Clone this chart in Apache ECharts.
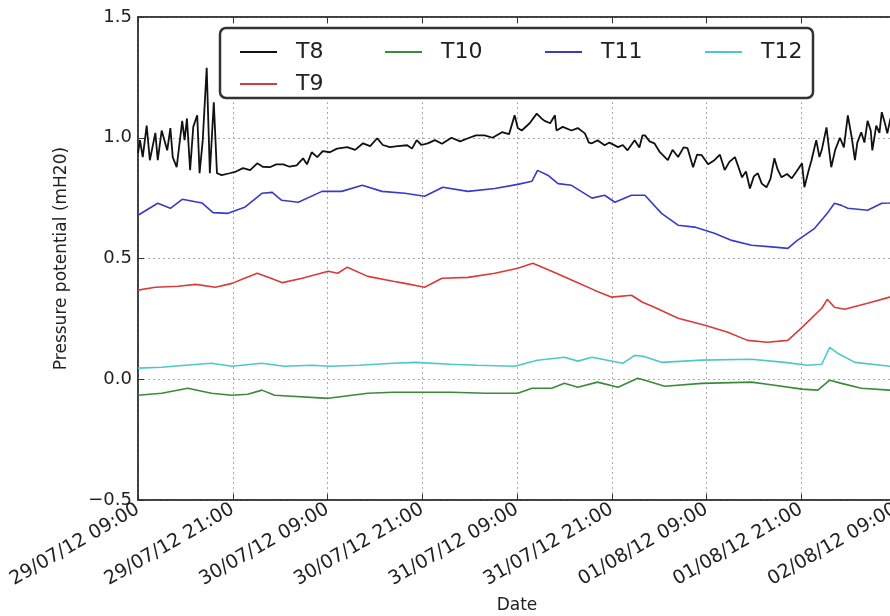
<!DOCTYPE html>
<html>
<head>
<meta charset="utf-8">
<script src="https://cdn.jsdelivr.net/npm/echarts@6/dist/echarts.min.js"></script>
<style>
  html, body { margin: 0; padding: 0; background: #fff; }
  #chart { width: 890px; height: 616px; }
</style>
</head>
<body>
<div id="chart"></div>
<script>
// hours since 29/07/12 09:00, one tick every 12 h
const xTickLabels = ['29/07/12 09:00', '29/07/12 21:00', '30/07/12 09:00', '30/07/12 21:00',
    '31/07/12 09:00', '31/07/12 21:00', '01/08/12 09:00', '01/08/12 21:00', '02/08/12 09:00'];
const seriesNames = ['T8', 'T9', 'T10', 'T11', 'T12'];

// [hour, pressure potential]
const t8 = [
    [0.0, 0.936], [0.25, 0.99], [0.6, 0.92], [1.1, 1.05], [1.5, 0.907], [2.2, 1.02], [2.5, 0.907],
    [3.0, 1.03], [3.7, 0.948], [4.1, 1.04], [4.4, 0.92], [4.9, 0.878], [5.6, 1.07], [5.9, 0.99],
    [6.2, 1.08], [6.6, 0.866], [7.0, 1.045], [7.5, 1.093], [7.8, 0.853], [8.2, 0.99], [8.7, 1.29],
    [9.1, 0.853], [9.6, 1.147], [10.0, 0.853], [10.6, 0.845], [11.6, 0.853], [12.4, 0.86],
    [13.3, 0.874], [14.2, 0.866], [15.1, 0.894], [15.8, 0.88], [16.7, 0.878], [17.5, 0.89],
    [18.4, 0.89], [19.2, 0.88], [20.1, 0.886], [20.9, 0.915], [21.4, 0.89], [22.0, 0.94],
    [22.7, 0.92], [23.4, 0.945], [24.3, 0.94], [25.2, 0.955], [26.5, 0.961], [27.5, 0.95],
    [28.5, 0.977], [29.4, 0.965], [30.3, 0.998], [31.0, 0.97], [31.9, 0.961], [32.9, 0.965],
    [34.1, 0.969], [34.7, 0.955], [35.3, 0.99], [35.9, 0.97], [36.7, 0.977], [37.6, 0.99],
    [38.5, 0.975], [39.7, 1.0], [40.8, 0.985], [41.8, 0.998], [42.8, 1.01], [43.9, 1.01],
    [44.9, 1.0], [46.1, 1.023], [47.0, 1.015], [47.7, 1.093], [48.1, 1.04], [48.6, 1.03],
    [49.6, 1.06], [50.5, 1.10], [51.1, 1.08], [51.5, 1.07], [52.2, 1.06], [52.8, 1.093],
    [53.0, 1.03], [53.8, 1.045], [54.9, 1.03], [55.7, 1.04], [56.6, 1.018], [57.1, 0.98],
    [57.5, 0.977], [58.2, 0.99], [59.1, 0.969], [59.7, 0.98], [60.8, 0.961], [61.4, 0.97],
    [62.0, 0.948], [62.9, 0.99], [63.5, 0.96], [63.9, 1.01], [64.2, 1.01], [64.8, 0.985],
    [65.4, 0.977], [66.1, 0.94], [67.1, 0.907], [67.7, 0.95], [68.4, 0.92], [69.1, 0.96],
    [69.6, 0.957], [70.3, 0.878], [70.8, 0.93], [71.4, 0.928], [72.2, 0.89], [73.0, 0.907],
    [73.7, 0.93], [74.3, 0.866], [74.9, 0.9], [75.6, 0.92], [76.5, 0.836], [77.0, 0.86],
    [77.5, 0.79], [78.0, 0.84], [78.5, 0.853], [79.0, 0.81], [79.6, 0.795], [80.1, 0.83],
    [80.6, 0.915], [81.0, 0.87], [81.5, 0.836], [82.2, 0.85], [82.8, 0.832], [83.4, 0.86],
    [84.1, 0.894], [84.4, 0.795], [84.9, 0.86], [85.3, 0.907], [85.9, 0.99], [86.3, 0.92],
    [86.6, 0.95], [87.2, 1.043], [87.6, 0.93], [87.8, 0.878], [88.3, 0.95], [88.9, 1.0],
    [89.4, 0.96], [89.9, 1.093], [90.4, 1.0], [90.8, 0.907], [91.1, 0.98], [91.6, 1.023],
    [92.0, 0.98], [92.4, 1.07], [92.8, 1.03], [93.0, 0.948], [93.5, 1.05], [93.9, 1.02],
    [94.2, 1.106], [94.6, 1.06], [94.9, 1.018], [95.3, 1.08], [95.8, 1.04], [96.2, 1.06]
];
const t9 = [
    [0.0, 0.369], [2.2, 0.381], [5.1, 0.385], [7.3, 0.393], [9.8, 0.381], [11.9, 0.397],
    [13.5, 0.418], [15.1, 0.439], [16.5, 0.422], [18.3, 0.40], [20.8, 0.418], [24.1, 0.447],
    [25.3, 0.439], [26.5, 0.464], [29.1, 0.426], [32.3, 0.406], [33.8, 0.397], [36.3, 0.381],
    [38.5, 0.418], [41.8, 0.422], [45.2, 0.439], [48.1, 0.46], [50.0, 0.48], [52.4, 0.447],
    [55.7, 0.40], [57.8, 0.369], [60.0, 0.34], [62.5, 0.348], [63.9, 0.319], [65.4, 0.298],
    [68.4, 0.253], [71.8, 0.224], [74.7, 0.195], [77.2, 0.161], [79.7, 0.153], [82.3, 0.161],
    [84.1, 0.215], [86.6, 0.294], [87.3, 0.331], [88.2, 0.298], [89.5, 0.29], [92.4, 0.315],
    [95.2, 0.34], [96.5, 0.345]
];
const t10 = [
    [0.0, -0.066], [3.0, -0.058], [6.3, -0.037], [9.3, -0.058], [11.9, -0.066], [13.9, -0.062],
    [15.7, -0.045], [17.3, -0.066], [24.1, -0.079], [29.1, -0.058], [32.3, -0.054], [39.7, -0.054],
    [44.0, -0.058], [48.1, -0.058], [49.9, -0.037], [52.4, -0.037], [54.0, -0.017], [55.7, -0.033],
    [58.2, -0.012], [60.8, -0.033], [63.3, 0.004], [64.2, -0.004], [66.7, -0.029], [71.4, -0.017],
    [77.7, -0.012], [79.7, -0.021], [84.1, -0.041], [86.1, -0.045], [87.6, -0.004], [89.1, -0.017],
    [91.6, -0.037], [95.2, -0.045], [96.5, -0.045]
];
const t11 = [
    [0.0, 0.679], [2.5, 0.729], [4.1, 0.708], [5.6, 0.745], [8.1, 0.73], [9.5, 0.69], [11.4, 0.687],
    [13.5, 0.712], [15.7, 0.77], [17.0, 0.774], [18.2, 0.741], [20.3, 0.733], [23.3, 0.778],
    [25.8, 0.778], [28.4, 0.803], [30.9, 0.778], [33.8, 0.77], [36.3, 0.758], [38.6, 0.795],
    [41.8, 0.778], [45.2, 0.79], [48.1, 0.807], [49.9, 0.82], [50.6, 0.865], [51.9, 0.845],
    [53.2, 0.81], [54.9, 0.803], [57.5, 0.75], [59.1, 0.762], [60.4, 0.733], [62.5, 0.762],
    [64.2, 0.762], [66.3, 0.687], [68.4, 0.638], [70.5, 0.63], [73.0, 0.605], [75.2, 0.575],
    [77.7, 0.555], [80.6, 0.547], [82.3, 0.542], [83.5, 0.575], [85.7, 0.625], [87.3, 0.687],
    [88.2, 0.729], [89.1, 0.72], [89.9, 0.708], [92.4, 0.70], [94.2, 0.729], [95.2, 0.73], [96.5, 0.735]
];
const t12 = [
    [0.0, 0.046], [3.0, 0.05], [6.0, 0.058], [9.3, 0.066], [11.9, 0.054], [15.7, 0.066],
    [18.5, 0.054], [22.0, 0.058], [24.3, 0.054], [28.0, 0.058], [32.3, 0.066], [35.2, 0.07],
    [39.5, 0.062], [43.0, 0.058], [47.7, 0.054], [50.6, 0.079], [54.0, 0.091], [55.7, 0.075],
    [57.5, 0.091], [61.4, 0.066], [62.9, 0.099], [64.0, 0.095], [66.3, 0.07], [71.4, 0.079],
    [77.7, 0.083], [81.9, 0.07], [84.8, 0.058], [86.6, 0.062], [87.6, 0.132], [88.6, 0.108],
    [90.8, 0.07], [95.2, 0.054], [96.5, 0.054]
];

const seriesData = [t8, t9, t10, t11, t12];
const seriesColors = ['#111111', '#d93a3a', '#3a8a3a', '#3a3ac8', '#4cc8c8'];

const font = 'DejaVu Sans';
const gridLine = { show: true, lineStyle: { color: '#aaa', type: [2, 3], width: 1 } };
const spine = { show: true, onZero: false, lineStyle: { color: '#333', width: 1.5 } };
const innerTick = { show: true, inside: true, length: 6, lineStyle: { color: '#333' } };

// legend columns like matplotlib: T8/T9 share the first column
const legendSlots = [['T8', 235, 36], ['T10', 380, 36], ['T11', 540, 36], ['T12', 700, 36], ['T9', 235, 68]];

let myChart = echarts.init(document.getElementById('chart'));

let option = {
    backgroundColor: '#fff',
    animation: false,
    textStyle: { fontFamily: font },
    grid: {
        left: 138,
        top: 17,
        width: 758,
        height: 483,
        outerBoundsMode: 'none',
        containLabel: false,
        show: true,
        borderColor: '#333',
        borderWidth: 1.5
    },
    graphic: [{
        type: 'rect',
        z: 3,
        shape: { x: 220, y: 28, width: 593, height: 70, r: 6 },
        style: { fill: '#fff', stroke: '#333', lineWidth: 2.5 }
    }],
    legend: legendSlots.map(function (s) {
        return {
            data: [s[0]],
            left: s[1],
            top: s[2],
            z: 5,
            selectedMode: false,
            icon: 'rect',
            itemWidth: 37,
            itemHeight: 2,
            textStyle: { fontFamily: font, fontSize: 22, color: '#222', padding: [0, 0, 0, 14] }
        }
    }),
    xAxis: [{
        type: 'value',
        min: 0,
        max: 96,
        interval: 12,
        position: 'bottom',
        name: 'Date',
        nameLocation: 'middle',
        nameGap: 97,
        nameTextStyle: { fontFamily: font, fontSize: 17, color: '#222' },
        axisLine: spine,
        axisTick: innerTick,
        axisLabel: {
            rotate: 30,
            fontFamily: font,
            fontSize: 19,
            color: '#222',
            margin: 8,
            showMinLabel: true,
            showMaxLabel: true,
            hideOverlap: false,
            formatter: function (v) {
                return xTickLabels[Math.round(v / 12)]
            }
        },
        splitLine: gridLine
    }, {
        type: 'value',
        min: 0,
        max: 96,
        interval: 12,
        position: 'top',
        axisLine: spine,
        axisTick: innerTick,
        axisLabel: { show: false },
        splitLine: { show: false }
    }],
    yAxis: [{
        type: 'value',
        min: -0.5,
        max: 1.5,
        interval: 0.5,
        name: 'Pressure potential (mH20)',
        nameLocation: 'middle',
        nameGap: 68,
        nameRotate: 90,
        nameTextStyle: { fontFamily: font, fontSize: 17, color: '#222' },
        axisLine: spine,
        axisTick: innerTick,
        axisLabel: {
            fontFamily: font,
            fontSize: 18,
            color: '#222',
            margin: 6,
            formatter: function (v) {
                return v.toFixed(1).replace('-', '\u2212')
            }
        },
        splitLine: gridLine
    }],
    series: seriesNames.map(function (name, i) {
        return {
            name: name,
            type: 'line',
            data: seriesData[i],
            symbol: 'none',
            z: 2,
            lineStyle: { color: seriesColors[i], width: i === 0 ? 1.8 : 1.6 },
            itemStyle: { color: seriesColors[i] }
        }
    })
};

myChart.setOption(option);
</script>
</body>
</html>
